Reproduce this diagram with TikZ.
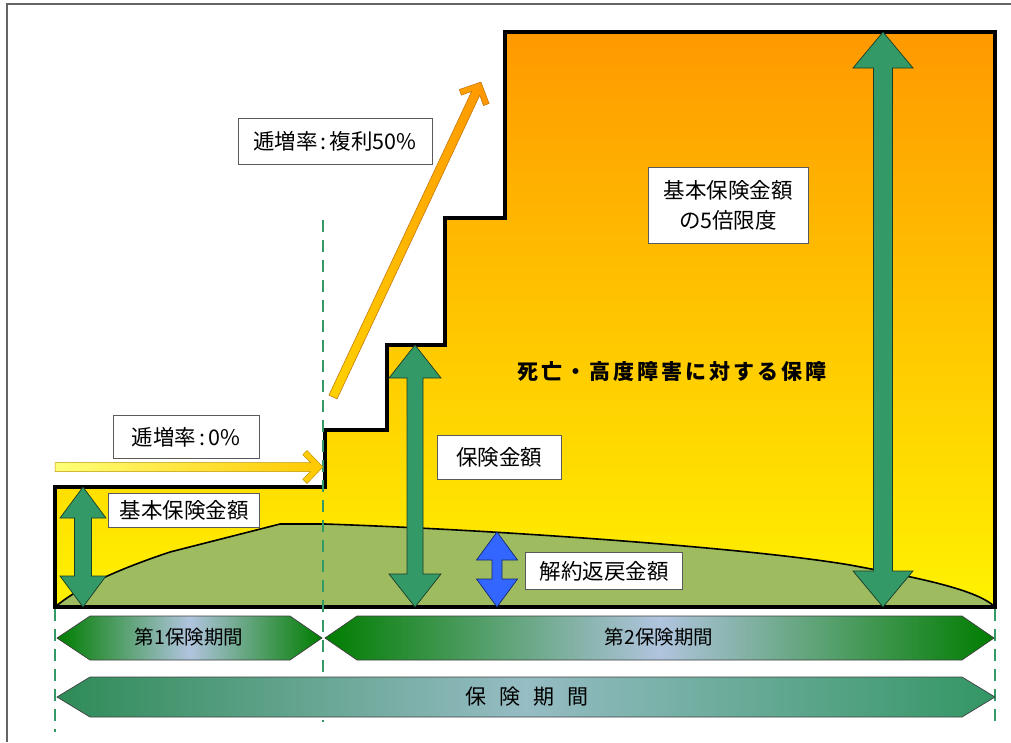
\documentclass[tikz,border=0pt]{standalone}
\usepackage{fontspec}
\setmainfont{Noto Sans CJK JP}
\definecolor{grn}{RGB}{51,153,102}
\definecolor{hill}{RGB}{158,187,95}
\definecolor{org}{RGB}{255,153,0}
\definecolor{midy}{RGB}{255,204,0}
\definecolor{ylw}{RGB}{255,242,0}
\definecolor{blu}{RGB}{51,102,255}
\definecolor{dgrn}{RGB}{0,125,0}
\definecolor{lblu}{RGB}{176,196,222}
\definecolor{frame}{RGB}{100,100,100}
\newcommand\chev[1]{(0,-4.5) -- ({#1-12.5},-4.5) -- ({#1-20.2},-12.2) -- ({#1-16},-16.5) -- (#1,0) -- ({#1-16},16.5) -- ({#1-20.2},12.2) -- ({#1-12.5},4.5) -- (0,4.5) -- cycle}
\newcommand\vdbl[6]{(#1,#2) -- ({#1+#4},{#2+#6}) -- ({#1+#5},{#2+#6}) -- ({#1+#5},{#3-#6}) -- ({#1+#4},{#3-#6}) -- (#1,#3) -- ({#1-#4},{#3-#6}) -- ({#1-#5},{#3-#6}) -- ({#1-#5},{#2+#6}) -- ({#1-#4},{#2+#6}) -- cycle}
\begin{document}
\begin{tikzpicture}[x=1pt,y=-1pt,
  lbl/.style={draw={rgb,255:red,90;green,90;blue,90}, line width=1pt, fill=white, inner sep=0pt, font=\fontsize{21.5}{30}\selectfont, align=center},
  garrow/.style={fill=grn, draw={rgb,255:red,25;green,60;blue,40}, line width=0.7pt},
  barrow/.style={fill=blu, draw={rgb,255:red,20;green,40;blue,110}, line width=0.7pt},
  gdash/.style={draw=grn, line width=1.8pt, dash pattern=on 12pt off 8pt},
  bartxt/.style={font=\fontsize{19.5}{22}\selectfont, inner sep=0pt},
  barline/.style={draw=black!75, line width=0.7pt}]
\useasboundingbox (0,0) rectangle (1011,742);
% frame
\draw[frame, line width=2pt] (7,742) -- (7,4) -- (1011,4);
% staircase fill
\shade[top color=org, middle color=midy, bottom color=ylw]
  (55,607) -- (55,487) -- (325,487) -- (325,430) -- (387,430) -- (387,345) -- (445,345) -- (445,218) -- (505,218) -- (505,32) -- (995,32) -- (995,607) -- cycle;
% surrender value hill
\fill[hill] (55,607) .. controls (75,590) and (110,572) .. (170,552) -- (280,524) -- (325,524)
  .. controls (500,530) and (750,548) .. (850,565) .. controls (920,578) and (978,590) .. (995,607) -- cycle;
\draw[black, line width=1.6pt] (55,607) .. controls (75,590) and (110,572) .. (170,552) -- (280,524) -- (325,524)
  .. controls (500,530) and (750,548) .. (850,565) .. controls (920,578) and (978,590) .. (995,607);
% staircase outline
\draw[black, line width=3.2pt, line join=miter]
  (55,607) -- (55,487) -- (325,487) -- (325,430) -- (387,430) -- (387,345) -- (445,345) -- (445,218) -- (505,218) -- (505,32) -- (995,32) -- (995,607) -- cycle;
% dashed period lines
\draw[gdash] (55,609) -- (55,732);
\draw[gdash] (323,220) -- (323,722);
\draw[gdash] (995,609) -- (995,727);
% increase arrows
\begin{scope}[shift={(55,467)}]
  \shade[left color={rgb,255:red,255;green,255;blue,120}, right color={rgb,255:red,255;green,200;blue,0}, draw={rgb,255:red,190;green,150;blue,0}, line width=0.5pt] \chev{268};
\end{scope}
\begin{scope}[shift={(333,397)}, rotate=64.83]
  \shade[left color={rgb,255:red,255;green,210;blue,0}, right color={rgb,255:red,255;green,150;blue,0}, draw={rgb,255:red,190;green,110;blue,0}, line width=0.5pt] \chev{348};
\end{scope}
% amount arrows
\filldraw[garrow] \vdbl{83}{487}{607}{23}{8.5}{31};
\filldraw[garrow] \vdbl{415}{345}{607}{26}{8}{33};
\filldraw[garrow] \vdbl{883}{32}{607}{30}{9.5}{36};
\filldraw[barrow] \vdbl{497}{532}{607}{20.5}{5}{28};
% labels
\node[lbl, minimum width=194, minimum height=46] (r50) at (335,141) {逓増率\kern3pt:\kern3pt 複利50\%};
\node[lbl, minimum width=146, minimum height=43] (r0) at (186,437) {逓増率\kern3pt:\kern3pt 0\%};
\node[lbl, minimum width=151, minimum height=34] (kihon) at (184,510) {基本保険金額};
\node[lbl, minimum width=124, minimum height=44] (hoken) at (499,457) {保険金額};
\node[lbl, minimum width=157, minimum height=37] (kaiyaku) at (604,571) {解約返戻金額};
\node[lbl, minimum width=160, minimum height=76] (five) at (728,205) {基本保険金額\\の5倍限度};
\node[font=\fontsize{21}{25}\selectfont\bfseries, inner sep=0pt] (main) at (672,372)
  {死\kern3pt 亡\kern3pt ・\kern3pt 高\kern3pt 度\kern3pt 障\kern3pt 害\kern3pt に\kern3pt 対\kern3pt す\kern3pt る\kern3pt 保\kern3pt 障};
% period bars
\shade[left color=dgrn, right color=dgrn, middle color=lblu, barline]
  (57,638) -- (90,616) -- (290,616) -- (322,638) -- (290,660) -- (90,660) -- cycle;
\node[bartxt] (p1) at (189,637) {第1保険期間};
\shade[left color=dgrn, right color=dgrn, middle color=lblu, barline]
  (325,638) -- (357,616) -- (962,616) -- (994,638) -- (962,660) -- (357,660) -- cycle;
\node[bartxt] (p2) at (659,637) {第2保険期間};
\shade[left color={rgb,255:red,46;green,139;blue,87}, right color={rgb,255:red,51;green,150;blue,100}, middle color={rgb,255:red,150;green,188;blue,196}, barline]
  (57,697) -- (90,677) -- (962,677) -- (995,697) -- (962,717) -- (90,717) -- cycle;
\node[bartxt, font=\fontsize{21}{24}\selectfont] (p3) at (527,697) {保\kern13pt 険\kern13pt 期\kern13pt 間};
\end{tikzpicture}
\end{document}
